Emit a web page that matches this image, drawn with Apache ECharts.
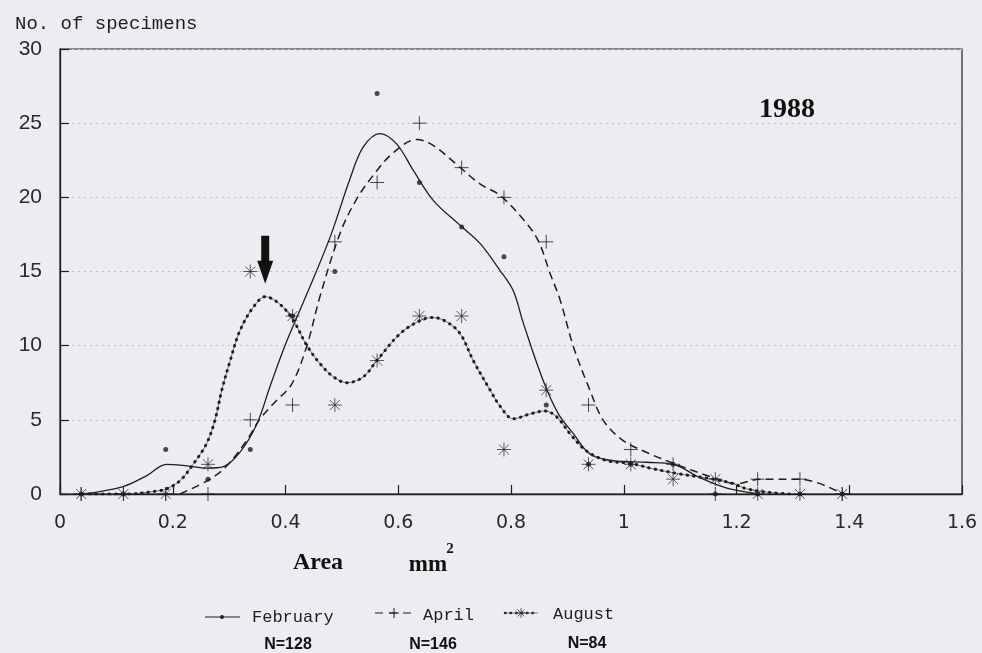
<!DOCTYPE html>
<html><head><meta charset="utf-8">
<script src="https://cdn.jsdelivr.net/npm/echarts@6/dist/echarts.min.js"></script>
<style>html,body{margin:0;padding:0;background:#ecedf0;}#c{width:982px;height:653px;}</style>
</head><body><div id="c"></div>
<script>
// Size-class midpoints (mm^2)
const binMid = [0.0375,0.1125,0.1875,0.2625,0.3375,0.4125,0.4875,0.5625,0.6375,0.7125,0.7875,0.8625,0.9375,1.0125,1.0875,1.1625,1.2375,1.3125,1.3875];
// Number of specimens per class
const febCounts = [0,0,3,1,3,12,15,27,21,18,16,6,2,2,2,0,0,0,0];   // N=128
const aprCounts = [0,0,0,0,5,6,17,21,25,22,20,17,6,3,2,0,1,1,0];   // N=146
const augCounts = [0,0,0,2,15,12,6,9,12,12,3,7,2,2,1,1,0,0,0];     // N=84

// Smoothed curves [area, count]
const febCurve = [[0.041,0],[0.112,0.5],[0.154,1.24],[0.189,2.0],[0.225,1.9],[0.260,1.75],[0.290,1.85],[0.319,2.8],[0.349,4.7],[0.373,7.3],[0.399,10.0],[0.438,13.5],[0.479,17.3],[0.514,21.2],[0.538,23.4],[0.568,24.3],[0.597,23.6],[0.627,21.8],[0.662,19.8],[0.710,18.1],[0.745,16.9],[0.780,15.1],[0.804,13.7],[0.822,11.5],[0.857,7.65],[0.884,5.4],[0.911,4.05],[0.940,2.7],[0.981,2.25],[1.041,2.14],[1.088,2.0],[1.135,1.1],[1.183,0.4],[1.242,0]];
const aprCurve = [[0.213,0],[0.266,1.0],[0.296,1.9],[0.331,3.6],[0.355,5.07],[0.384,6.3],[0.411,7.4],[0.438,10.0],[0.461,13.3],[0.497,17.6],[0.525,19.8],[0.556,21.5],[0.591,23.0],[0.633,23.9],[0.662,23.5],[0.704,22.2],[0.745,20.9],[0.780,20.15],[0.822,18.5],[0.848,17.1],[0.869,14.9],[0.887,13.1],[0.911,9.9],[0.940,7.0],[0.964,4.95],[0.999,3.6],[1.041,2.8],[1.088,2.07],[1.159,1.1],[1.200,0.7],[1.242,1.0],[1.313,1.0],[1.389,0]];
const augCurve = [[0.041,0],[0.118,0],[0.172,0.2],[0.189,0.35],[0.213,0.9],[0.236,2.0],[0.260,3.4],[0.275,5.0],[0.287,7.0],[0.302,9.0],[0.319,11.0],[0.343,12.6],[0.364,13.3],[0.390,12.8],[0.414,11.7],[0.438,10.0],[0.461,8.8],[0.485,7.9],[0.509,7.5],[0.538,7.9],[0.562,9.0],[0.603,10.8],[0.639,11.7],[0.662,11.9],[0.686,11.6],[0.710,10.8],[0.733,9.0],[0.763,7.0],[0.781,5.9],[0.804,5.07],[0.834,5.4],[0.860,5.6],[0.881,5.2],[0.905,4.05],[0.934,2.9],[0.970,2.25],[1.011,2.07],[1.052,1.7],[1.100,1.35],[1.159,1.0],[1.194,0.7],[1.218,0.35],[1.259,0.1],[1.295,0]];

const seriesNames = ['February','April','August'];
const seriesN = ['N=128','N=146','N=84'];
const arrowAt = [0.364, 15.8];

const INK = '#1e1e1e';
const plusPath = 'path://M0,8L16,8M8,0L8,16';
const starPath = 'path://M8,0L8,16M0,8L16,8M2.3,2.3L13.7,13.7M13.7,2.3L2.3,13.7';
const pts = arr => binMid.map((x,i)=>[x, arr[i]]);
const seg = (x1,y1,x2,y2,w,c) => ({type:'line', shape:{x1,y1,x2,y2}, style:{stroke:c||INK, lineWidth:w||1}});

const chart = echarts.init(document.getElementById('c'));
chart.setOption({
  animation:false,
  backgroundColor:'#ecedf0',
  title:{text:'No. of specimens', left:10, top:9,
    textStyle:{fontFamily:'Liberation Mono', fontSize:19, fontWeight:'normal', color:INK}},
  grid:{left:60, right:20, top:49, bottom:159, show:true, borderColor:INK, borderWidth:1.2, backgroundColor:'transparent'},
  xAxis:{type:'value', min:0, max:1.6, interval:0.2,
    axisLine:{lineStyle:{color:INK, width:1.3}},
    axisTick:{inside:true, length:9, lineStyle:{color:INK, width:1.2}},
    axisLabel:{margin:20, color:'#2a2a2a', fontFamily:'DejaVu Sans', fontSize:19},
    splitLine:{show:false}},
  yAxis:{type:'value', min:0, max:30, interval:5,
    axisLine:{show:true, lineStyle:{color:INK, width:1.3}},
    axisTick:{show:true, inside:true, length:9, lineStyle:{color:INK, width:1.2}},
    axisLabel:{margin:18, color:'#2a2a2a', fontFamily:'Liberation Sans', fontSize:21},
    splitLine:{show:true, lineStyle:{color:'#c2c2c6', type:[2,4], width:1}}},
  series:[
    {name:'February curve', type:'line', data:febCurve, smooth:0.35, showSymbol:false, z:3,
      lineStyle:{color:INK, width:1.3}},
    {name:'April curve', type:'line', data:aprCurve, smooth:0.35, showSymbol:false, z:3,
      lineStyle:{color:INK, width:1.5, type:[8,5]}},
    {name:'August curve', type:'line', data:augCurve, smooth:0.35, showSymbol:false, z:3,
      lineStyle:{color:'#555', width:0.8}},
    {name:'August dots', type:'line', data:augCurve, smooth:0.35, showSymbol:false, z:4,
      lineStyle:{color:INK, width:3, type:[0.5,6], cap:'round'}},
    {name:seriesNames[0], type:'scatter', data:pts(febCounts), symbol:'circle', symbolSize:5, z:5,
      itemStyle:{color:INK}},
    {name:seriesNames[1], type:'scatter', data:pts(aprCounts), symbol:plusPath, symbolSize:14, z:5,
      itemStyle:{color:'none', borderColor:INK, borderWidth:1}},
    {name:seriesNames[2], type:'scatter', data:pts(augCounts), symbol:starPath, symbolSize:14, z:5,
      itemStyle:{color:'none', borderColor:INK, borderWidth:0.9},
      markPoint:{silent:true, symbol:'path://M4,0L12,0L12,25L16,25L8,48L0,25L4,25Z', symbolKeepAspect:false,
        symbolSize:[16,48], itemStyle:{color:'#111', borderWidth:0}, label:{show:false},
        data:[{coord:arrowAt}]}}
  ],
  graphic:[
    {type:'text', x:787, y:110, style:{text:'1988', font:'bold 28px "Liberation Serif"', fill:'#111', align:'center', verticalAlign:'middle'}},
    {type:'text', x:318, y:563, style:{text:'Area', font:'bold 24px "Liberation Serif"', fill:'#111', align:'center', verticalAlign:'middle'}},
    {type:'text', x:428, y:565, style:{text:'mm', font:'bold 23px "Liberation Serif"', fill:'#111', align:'center', verticalAlign:'middle'}},
    {type:'text', x:450, y:549, style:{text:'2', font:'bold 15px "Liberation Serif"', fill:'#111', align:'center', verticalAlign:'middle'}},
    // legend: February
    seg(205,617,240,617,1.2),
    {type:'circle', shape:{cx:222,cy:617,r:2}, style:{fill:INK}},
    {type:'text', x:252, y:617, style:{text:seriesNames[0], font:'17px "Liberation Mono"', fill:INK, align:'left', verticalAlign:'middle'}},
    {type:'text', x:288, y:645, style:{text:seriesN[0], font:'bold 16px "Liberation Sans"', fill:'#111', align:'center', verticalAlign:'middle'}},
    // legend: April
    {type:'line', shape:{x1:375,y1:613,x2:413,y2:613}, style:{stroke:INK, lineWidth:1.2, lineDash:[8,6]}},
    seg(394,608,394,618,1),
    seg(389,613,399,613,1),
    {type:'text', x:423, y:615, style:{text:seriesNames[1], font:'17px "Liberation Mono"', fill:INK, align:'left', verticalAlign:'middle'}},
    {type:'text', x:433, y:645, style:{text:seriesN[1], font:'bold 16px "Liberation Sans"', fill:'#111', align:'center', verticalAlign:'middle'}},
    // legend: August
    {type:'line', shape:{x1:505,y1:613,x2:538,y2:613}, style:{stroke:INK, lineWidth:2.5, lineDash:[0.5,5], lineCap:'round'}},
    seg(505,613,538,613,0.7,'#555'),
    seg(521,608,521,618,0.8,'#333'),
    seg(516,613,526,613,0.8,'#333'),
    seg(517.5,609.5,524.5,616.5,0.8,'#333'),
    seg(524.5,609.5,517.5,616.5,0.8,'#333'),
    {type:'text', x:553, y:614, style:{text:seriesNames[2], font:'17px "Liberation Mono"', fill:INK, align:'left', verticalAlign:'middle'}},
    {type:'text', x:587, y:644, style:{text:seriesN[2], font:'bold 16px "Liberation Sans"', fill:'#111', align:'center', verticalAlign:'middle'}}
  ]
});
</script></body></html>
